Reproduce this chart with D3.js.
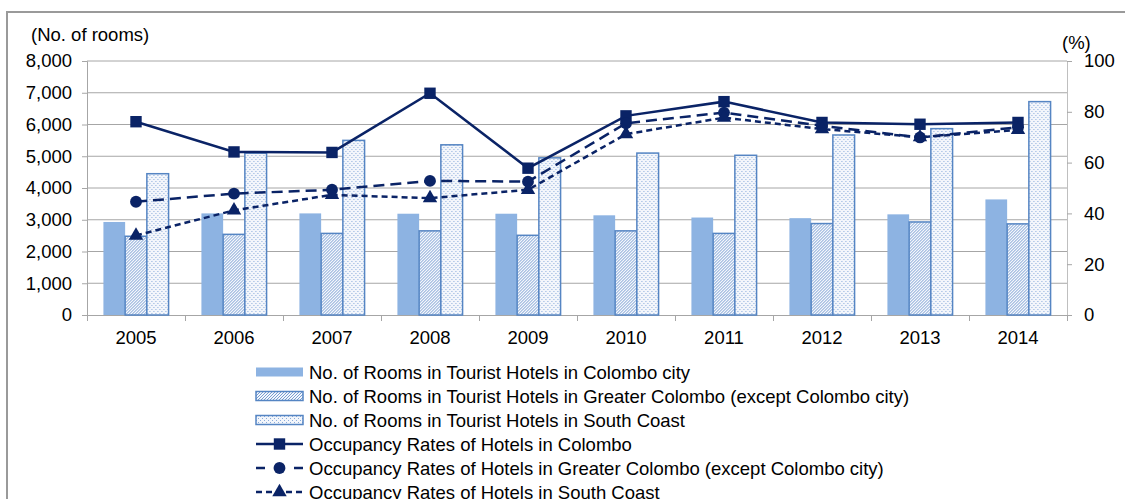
<!DOCTYPE html>
<html>
<head>
<meta charset="utf-8">
<script src="https://cdn.jsdelivr.net/npm/d3@7"></script>
<style>
  body { margin: 0; background: #fff; }
  text { font-family: "Liberation Sans", Arial, sans-serif; fill: #000; }
</style>
</head>
<body>
<svg id="chart" width="1125" height="499"></svg>
<script>
const years = ["2005", "2006", "2007", "2008", "2009", "2010", "2011", "2012", "2013", "2014"];
const roomsColombo = [2930, 3200, 3200, 3190, 3190, 3140, 3070, 3050, 3170, 3640];
const roomsGreater = [2480, 2540, 2570, 2650, 2510, 2650, 2570, 2880, 2930, 2870];
const roomsSouth = [4450, 5100, 5500, 5360, 4950, 5100, 5030, 5670, 5870, 6720];
const occColombo = [76.1, 64.2, 64.0, 87.3, 57.8, 78.4, 84.0, 75.8, 75.1, 75.8];
const occGreater = [44.6, 47.8, 49.3, 52.8, 52.5, 75.5, 79.7, 74.5, 69.9, 73.9];
const occSouth = [31.3, 41.2, 47.3, 46.0, 49.3, 71.2, 77.7, 73.2, 70.0, 72.9];
const leftTicks = [0, 1000, 2000, 3000, 4000, 5000, 6000, 7000, 8000];
const rightTicks = [0, 20, 40, 60, 80, 100];

const barSeries = [
    {key: "colombo", label: "No. of Rooms in Tourist Hotels in Colombo city", values: roomsColombo},
    {key: "greater", label: "No. of Rooms in Tourist Hotels in Greater Colombo (except Colombo city)", values: roomsGreater},
    {key: "south", label: "No. of Rooms in Tourist Hotels in South Coast", values: roomsSouth}
];
const lineSeries = [
    {key: "colombo", label: "Occupancy Rates of Hotels in Colombo", values: occColombo, dash: null, marker: d3.symbolSquare},
    {key: "greater", label: "Occupancy Rates of Hotels in Greater Colombo (except Colombo city)", values: occGreater, dash: "11,6", marker: d3.symbolCircle},
    {key: "south", label: "Occupancy Rates of Hotels in South Coast", values: occSouth, dash: "6,4", marker: d3.symbolTriangle}
];

const svg = d3.select("#chart");
const margin = {top: 61, left: 87};
const innerWidth = 980;
const innerHeight = 254;
const navy = "#0A2366";
const barStroke = "#5585C3";
const fontSize = "18.5px";

// outer frame (runs off the right and bottom edges)
svg.append("rect")
    .attr("x", 7).attr("y", 12)
    .attr("width", 1130).attr("height", 500)
    .attr("fill", "none")
    .attr("stroke", "#9a9a9a")
    .attr("stroke-width", 2);

const defs = svg.append("defs");
const hatch = defs.append("pattern")
    .attr("id", "hatch")
    .attr("patternUnits", "userSpaceOnUse")
    .attr("width", 3).attr("height", 3);
hatch.append("rect").attr("width", 3).attr("height", 3).attr("fill", "#f4f7fc");
hatch.append("path")
    .attr("d", "M-1,1 l2,-2 M0,3 l3,-3 M2,4 l2,-2")
    .attr("stroke", "#6a93cc")
    .attr("stroke-width", 0.9);

const dots = defs.append("pattern")
    .attr("id", "dots")
    .attr("patternUnits", "userSpaceOnUse")
    .attr("width", 4).attr("height", 4);
dots.append("rect").attr("width", 4).attr("height", 4).attr("fill", "#f3f6fb");
dots.append("rect").attr("x", 0).attr("y", 0).attr("width", 1).attr("height", 1).attr("fill", "#8aabda");
dots.append("rect").attr("x", 2).attr("y", 2).attr("width", 1).attr("height", 1).attr("fill", "#8aabda");

const fills = {colombo: "#8db3e2", greater: "url(#hatch)", south: "url(#dots)"};
const strokes = {colombo: "none", greater: barStroke, south: barStroke};

const chart = svg.append("g")
    .attr("transform", "translate(" + margin.left + "," + margin.top + ")");

const x0 = d3.scaleBand()
    .domain(years)
    .range([0, innerWidth])
    .paddingInner(0.335)
    .paddingOuter(0.1675);
const x1 = d3.scaleBand()
    .domain(barSeries.map(s => s.key))
    .range([0, x0.bandwidth()]);
const yLeft = d3.scaleLinear().domain([0, 8000]).range([innerHeight, 0]);
const yRight = d3.scaleLinear().domain([0, 100]).range([innerHeight, 0]);

// gridlines and left axis
const leftAxis = chart.append("g")
    .call(d3.axisLeft(yLeft).tickValues(leftTicks).tickFormat(d3.format(",")).tickSize(5).tickPadding(10));
leftAxis.select(".domain").attr("stroke", "#a6a6a6");
leftAxis.selectAll(".tick line").attr("stroke", "#a6a6a6");
leftAxis.selectAll(".tick text").style("font-size", fontSize).attr("font-family", null);

chart.append("g")
    .selectAll("line")
    .data(leftTicks.filter(d => d > 0))
    .join("line")
    .attr("x1", 0).attr("x2", innerWidth)
    .attr("y1", d => yLeft(d)).attr("y2", d => yLeft(d))
    .attr("stroke", "#a6a6a6");

// right axis
const rightAxis = chart.append("g")
    .attr("transform", "translate(" + innerWidth + ",0)")
    .call(d3.axisRight(yRight).tickValues(rightTicks).tickSize(5).tickPadding(12));
rightAxis.select(".domain").attr("stroke", "#bfbfbf");
rightAxis.selectAll(".tick line").attr("stroke", "#a6a6a6");
rightAxis.selectAll(".tick text").style("font-size", fontSize).attr("font-family", null);

// bottom axis: ticks between categories
const xBoundary = d3.scaleLinear().domain([0, years.length]).range([0, innerWidth]);
const bottomAxis = chart.append("g")
    .attr("transform", "translate(0," + innerHeight + ")")
    .call(d3.axisBottom(xBoundary).tickValues(d3.range(0, years.length + 1)).tickSize(6).tickFormat(""));
bottomAxis.select(".domain").attr("stroke", "#a6a6a6");
bottomAxis.selectAll(".tick line").attr("stroke", "#a6a6a6");

chart.append("g")
    .selectAll("text")
    .data(years)
    .join("text")
    .attr("x", d => x0(d) + x0.bandwidth() / 2)
    .attr("y", innerHeight + 29)
    .attr("text-anchor", "middle")
    .style("font-size", fontSize)
    .text(d => d);

// bars
const groups = chart.append("g")
    .selectAll("g")
    .data(years)
    .join("g")
    .attr("transform", d => "translate(" + x0(d) + ",0)");
groups.selectAll("rect")
    .data((d, i) => barSeries.map(s => ({key: s.key, value: s.values[i]})))
    .join("rect")
    .attr("x", d => x1(d.key))
    .attr("y", d => yLeft(d.value))
    .attr("width", x1.bandwidth())
    .attr("height", d => innerHeight - yLeft(d.value))
    .attr("fill", d => fills[d.key])
    .attr("stroke", d => strokes[d.key])
    .attr("stroke-width", 1.5);

// occupancy lines
const line = d3.line()
    .x((d, i) => x0(years[i]) + x0.bandwidth() / 2)
    .y(d => yRight(d));
const markerSize = {colombo: 130, greater: 110, south: 90};

lineSeries.forEach(s => {
    chart.append("path")
        .datum(s.values)
        .attr("d", line)
        .attr("fill", "none")
        .attr("stroke", navy)
        .attr("stroke-width", 2.5)
        .attr("stroke-dasharray", s.dash);
    chart.append("g")
        .selectAll("path")
        .data(s.values)
        .join("path")
        .attr("transform", (d, i) => "translate(" + (x0(years[i]) + x0.bandwidth() / 2) + "," + yRight(d) + ")")
        .attr("d", d3.symbol().type(s.marker).size(markerSize[s.key]))
        .attr("fill", navy);
});

// axis titles
svg.append("text")
    .attr("x", 31).attr("y", 41)
    .style("font-size", fontSize)
    .text("(No. of rooms)");
svg.append("text")
    .attr("x", 1062).attr("y", 49)
    .style("font-size", fontSize)
    .text("(%)");

// legend
const legend = svg.append("g").attr("transform", "translate(256,372)");
const rowH = 24;
const swW = 47;

barSeries.forEach((s, i) => {
    const row = legend.append("g").attr("transform", "translate(0," + i * rowH + ")");
    row.append("rect")
        .attr("x", 0).attr("y", -4.5)
        .attr("width", swW).attr("height", 9)
        .attr("fill", fills[s.key])
        .attr("stroke", strokes[s.key])
        .attr("stroke-width", 1.5);
    row.append("text")
        .attr("x", swW + 6).attr("y", 6.5)
        .style("font-size", fontSize)
        .text(s.label);
});

const legendDash = {colombo: null, greater: "9,10", south: "6,4"};
lineSeries.forEach((s, i) => {
    const row = legend.append("g").attr("transform", "translate(0," + (i + 3) * rowH + ")");
    row.append("line")
        .attr("x1", 0).attr("x2", swW)
        .attr("stroke", navy)
        .attr("stroke-width", 2.5)
        .attr("stroke-dasharray", legendDash[s.key]);
    row.append("path")
        .attr("transform", "translate(" + swW / 2 + ",0)")
        .attr("d", d3.symbol().type(s.marker).size(markerSize[s.key]))
        .attr("fill", navy);
    row.append("text")
        .attr("x", swW + 6).attr("y", 6.5)
        .style("font-size", fontSize)
        .text(s.label);
});
</script>
</body>
</html>
